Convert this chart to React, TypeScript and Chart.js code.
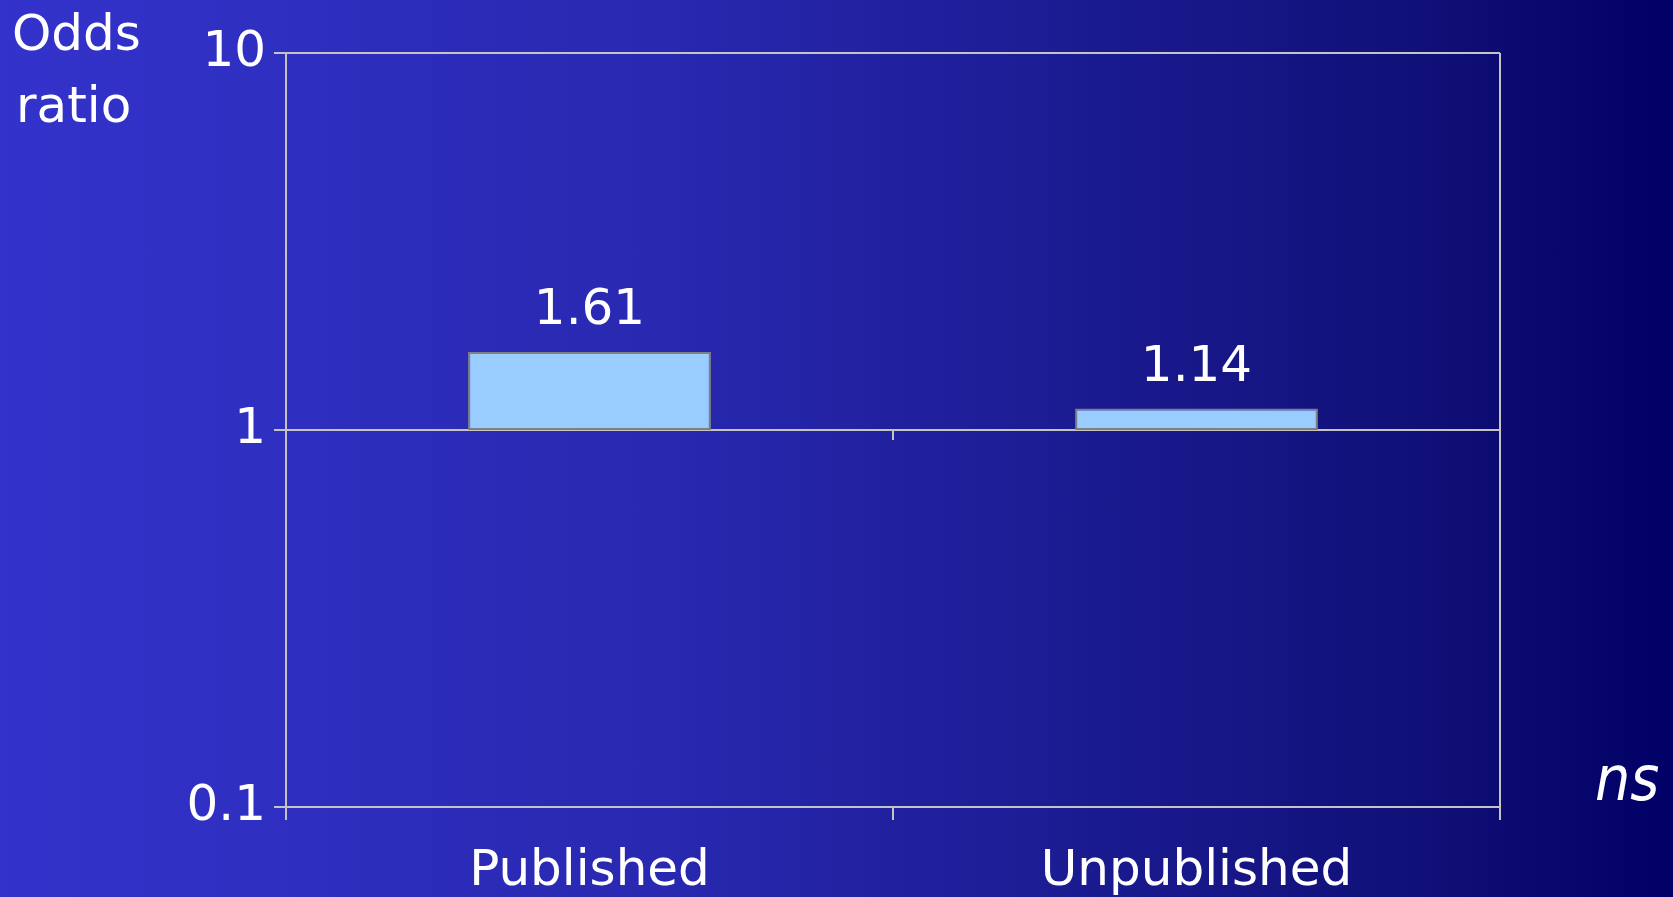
import React, { useEffect, useRef } from "react";
import { Chart, registerables } from "chart.js";

Chart.register(...registerables);

const categories = ["Published", "Unpublished"];
const oddsRatios = [1.61, 1.14];
const baseValue = 1;
const yTickValues = [0.1, 1, 10];
const yTickLabels = ["0.1", "1", "10"];
const yAxisTitle = ["Odds", "ratio"];
const noteText = "ns";

const FONT = "'DejaVu Sans', sans-serif";
const FONT_C = "'DejaVu Sans Condensed', 'DejaVu Sans', sans-serif";
const GRID = "#C4C4C4";

const decorPlugin = {
  id: "decor",
  afterDraw(chart: any) {
    const ctx = chart.ctx;
    const area = chart.chartArea;
    const x = chart.scales.x;
    const y = chart.scales.y;
    ctx.save();
    // right border
    ctx.strokeStyle = GRID;
    ctx.lineWidth = 2;
    ctx.beginPath();
    ctx.moveTo(area.right, area.top);
    ctx.lineTo(area.right, area.bottom);
    ctx.stroke();
    // ticks below the line at value 1
    const y1 = y.getPixelForValue(baseValue);
    const n = categories.length;
    for (let i = 0; i <= n; i++) {
      const px = x.left + (i * (x.right - x.left)) / n;
      ctx.beginPath();
      ctx.moveTo(px, y1);
      ctx.lineTo(px, y1 + 10);
      ctx.stroke();
    }
    // value labels
    const meta = chart.getDatasetMeta(0);
    ctx.fillStyle = "#FFFFFF";
    ctx.font = `50px ${FONT}`;
    ctx.textAlign = "center";
    ctx.textBaseline = "alphabetic";
    meta.data.forEach((bar: any, i: number) => {
      ctx.fillText(oddsRatios[i].toFixed(2), bar.x, bar.y - 28);
    });
    // axis title
    ctx.textAlign = "left";
    ctx.fillText(yAxisTitle[0], 12, 50);
    ctx.fillText(yAxisTitle[1], 16, 122);
    // ns note
    ctx.font = `italic 62px ${FONT_C}`;
    ctx.fillText(noteText, 1595, 800);
    ctx.restore();
  },
};

export default function App() {
  const ref = useRef<HTMLCanvasElement>(null);
  useEffect(() => {
    if (!ref.current) return;
    const chart = new Chart(ref.current, {
      type: "bar",
      data: {
        labels: categories,
        datasets: [
          {
            data: oddsRatios.map((v) => [baseValue, v]) as any,
            backgroundColor: "#99CCFF",
            borderColor: "#808080",
            borderWidth: 2,
            borderSkipped: false,
            barPercentage: 0.4,
            categoryPercentage: 1,
          },
        ],
      },
      options: {
        animation: false,
        responsive: false,
        maintainAspectRatio: false,
        layout: { padding: { left: 0, top: 53, right: 173, bottom: 0 } },
        plugins: { legend: { display: false }, tooltip: { enabled: false } },
        scales: {
          x: {
            type: "category",
            offset: true,
            grid: {
              display: true,
              offset: true,
              drawOnChartArea: false,
              drawTicks: true,
              tickLength: 13,
              color: GRID,
              lineWidth: 2,
            },
            border: { display: true, color: GRID, width: 2 },
            ticks: {
              color: "#FFFFFF",
              font: { family: FONT, size: 50 },
              padding: 22,
              maxRotation: 0,
            },
            afterFit: (s: any) => {
              s.height = 90;
            },
          },
          y: {
            type: "logarithmic",
            min: 0.1,
            max: 10,
            grid: {
              color: GRID,
              lineWidth: 2,
              drawTicks: true,
              tickLength: 12,
            },
            border: { display: true, color: GRID, width: 2 },
            ticks: {
              color: "#FFFFFF",
              font: { family: FONT, size: 50 },
              padding: 8,
              callback: (v: any) => {
                const i = yTickValues.indexOf(Number(v));
                return i >= 0 ? yTickLabels[i] : "";
              },
            },
            afterBuildTicks: (s: any) => {
              s.ticks = yTickValues.map((v) => ({ value: v }));
            },
            afterFit: (s: any) => {
              s.width = 286;
            },
          },
        },
      },
      plugins: [decorPlugin],
    });
    return () => chart.destroy();
  }, []);
  return (
    <div
      style={{
        position: "fixed",
        left: 0,
        top: 0,
        width: 1673,
        height: 897,
        background: "linear-gradient(to right, #3333CC 0%, #2828B0 40%, #101078 85%, #000066 100%)",
      }}
    >
      <canvas ref={ref} width={1673} height={897} style={{ display: "block" }} />
    </div>
  );
}
